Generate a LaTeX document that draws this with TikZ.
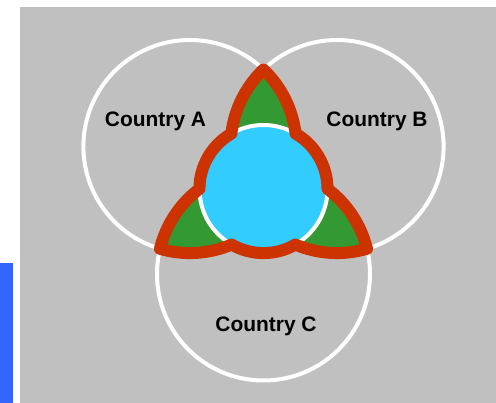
\documentclass[tikz,border=0pt]{standalone}
\usepackage{fontspec}
\setmainfont{Liberation Sans}
\def\vennR{106.5}
\def\vennD{85}
\def\coreR{64}
\definecolor{panelgray}{RGB}{192,192,192}
\definecolor{stripblue}{RGB}{51,102,255}
\definecolor{overlapgreen}{RGB}{51,153,51}
\definecolor{corecyan}{RGB}{51,204,255}
\definecolor{rimred}{RGB}{204,51,0}

\begin{document}
\begin{tikzpicture}[x=0.75pt,y=-0.75pt,line join=round,
    country/.style={font=\fontsize{15.7pt}{18pt}\selectfont\bfseries,anchor=base}]
  \useasboundingbox (0,0) rectangle (496,403);
  \fill[stripblue] (0,263) rectangle (13,403);
  \fill[panelgray] (20,7) rectangle (496,403);
  \coordinate (G) at (263.5,189);
  \foreach \n/\a in {A/210, B/330, C/90} { \coordinate (\n) at ([shift={(\a:\vennD)}]G); }
  \foreach \n in {A,B,C} { \draw[white,line width=3pt] (\n) circle[radius=\vennR]; }
  \foreach \p/\q in {A/B, B/C, C/A} {
    \begin{scope}
      \clip (\p) circle[radius=\vennR];
      \fill[overlapgreen] (\q) circle[radius=\vennR];
    \end{scope}
  }
  \draw[white,line width=3pt,fill=corecyan] (G) circle[radius=\coreR];
  \coordinate (tipAB) at ([shift={(-46.3:\vennR)}]A);
  \draw[rimred,line width=9pt] (tipAB)
    \foreach \k in {0,120,240} {
      arc[start angle=-46.3+\k,end angle=-6.94+\k,radius=\vennR]
      arc[start angle=-59.9+\k,end angle=-0.1+\k,radius=\coreR]
      arc[start angle=-53.06+\k,end angle=-13.7+\k,radius=\vennR]
    } -- cycle;
  \node[country] (lblA) at (155.5,126) {Country A};
  \node[country] (lblB) at (377,126) {Country B};
  \node[country] (lblC) at (266,331) {Country C};
\end{tikzpicture}
\end{document}
